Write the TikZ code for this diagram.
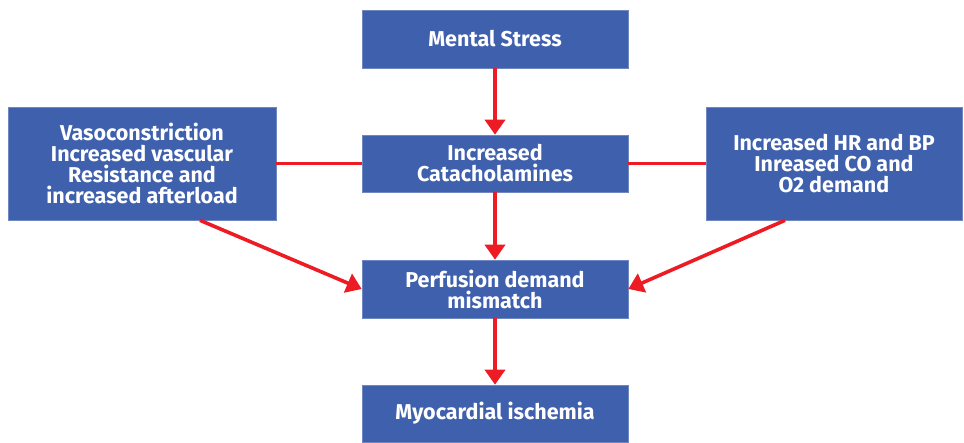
\documentclass[tikz,border=0pt]{standalone}
\usepackage{fontspec}
\setmainfont{Fira Sans}
\usetikzlibrary{arrows.meta}
\definecolor{boxblue}{HTML}{3F60AC}
\definecolor{linered}{HTML}{ED1C24}

\begin{document}
\begin{tikzpicture}[x=1pt, y=-1pt, >={Triangle[length=15pt,width=20pt]}]
		\useasboundingbox (0,0) rectangle (964,442);
		\tikzset{box/.style={fill=boxblue, draw=boxblue!75!white, line width=0.6pt, text=white,
				font=\fontsize{21.5}{21}\selectfont\bfseries, align=center, inner sep=0pt,
				minimum width=266pt, minimum height=58pt},
			link/.style={linered, line width=3.6pt}}
		% centre column
		\node[box] (mental) at (495,39) {Mental Stress};
		\node[box, minimum height=57pt] (catechol) at (495,163.5) {Increased\\Catacholamines};
		\node[box] (mismatch) at (495,289) {Perfusion demand\\mismatch};
		\node[box, minimum height=57pt] (ischemia) at (495,413.5) {Myocardial ischemia};
		% side boxes
		\node[box, minimum width=268pt, minimum height=113pt] (vaso) at (142,163.5)
			{Vasoconstriction\\Increased vascular\\Resistance and\\increased afterload};
		\node[box, minimum width=256pt, minimum height=113pt] (hrbp) at (834,163.5)
			{Increased HR and BP\\Inreased CO and\\O2 demand};
		% connectors
		\draw [link, ->] (mental) -- (catechol);
		\draw [link, ->] (catechol) -- (mismatch);
		\draw [link, ->] (mismatch) -- (ischemia);
		\draw [link] (vaso) -- (catechol);
		\draw [link] (hrbp) -- (catechol);
		\draw [link, ->] ([xshift=58pt]vaso.south) -- (mismatch.west);
		\draw [link, ->] ([xshift=-49pt]hrbp.south) -- (mismatch.east);
	\end{tikzpicture}
\end{document}
